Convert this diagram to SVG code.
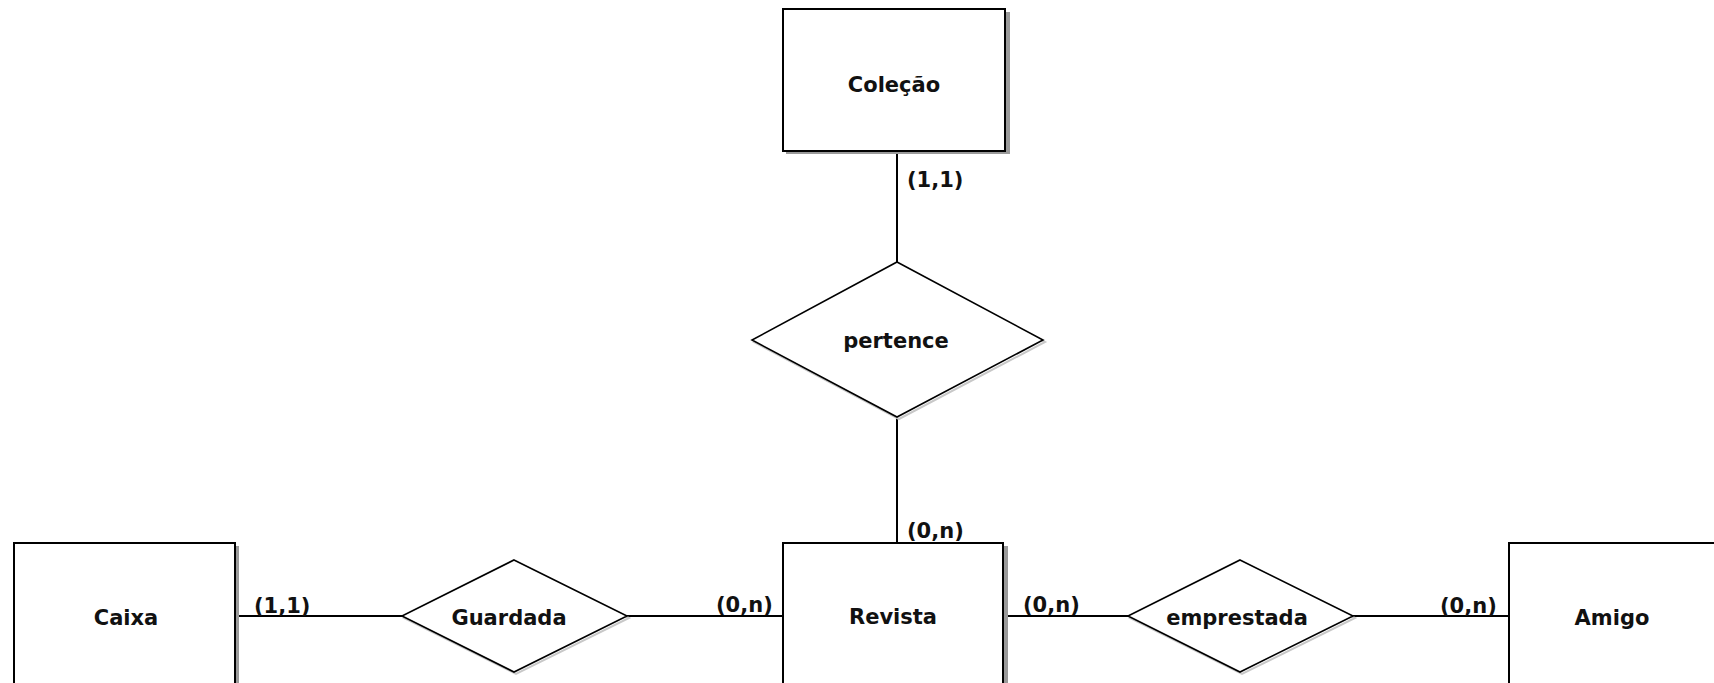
<svg xmlns="http://www.w3.org/2000/svg" width="1714" height="683" viewBox="0 0 1714 683">
<style>
.ent{fill:#fff;stroke:#000;stroke-width:2}
.shd{fill:#9a9a9a}
.rel{fill:#fff;stroke:#000;stroke-width:1.6}
.rshd{fill:none;stroke:#c8c8c8;stroke-width:2}
.lbl{font-family:"DejaVu Sans",Verdana,sans-serif;font-weight:bold;font-size:21px;fill:#111;text-anchor:middle}
.card{font-family:"DejaVu Sans",Verdana,sans-serif;font-weight:bold;font-size:21px;fill:#111}
.ln{stroke:#000;stroke-width:2;fill:none}
</style>
<rect width="1714" height="683" fill="#fff"/>
<g id="connectors">
<line class="ln" x1="897" y1="152" x2="897" y2="262"/>
<line class="ln" x1="897" y1="417" x2="897" y2="543"/>
<line class="ln" x1="238" y1="616" x2="402" y2="616"/>
<line class="ln" x1="627" y1="616" x2="783" y2="616"/>
<line class="ln" x1="1006" y1="616" x2="1128" y2="616"/>
<line class="ln" x1="1353" y1="616" x2="1509" y2="616"/>
<text class="card" x="907" y="187">(1,1)</text>
<text class="card" x="907" y="538">(0,n)</text>
<text class="card" x="254" y="613">(1,1)</text>
<text class="card" x="716" y="612">(0,n)</text>
<text class="card" x="1023" y="612">(0,n)</text>
<text class="card" x="1440" y="613">(0,n)</text>
</g>
<g id="colecao">
<rect class="shd" x="786" y="12" width="224" height="142"/>
<rect class="ent" x="783" y="9" width="222" height="142"/>
<text class="lbl" x="894" y="92">Coleção</text>
</g>
<g id="pertence">
<polygon class="rshd" points="899,264 1045,342 899,419 754,342"/>
<polygon class="rel" points="897,262 1043,340 897,417 752,340"/>
<text class="lbl" x="896" y="348">pertence</text>
</g>
<g id="caixa">
<rect class="shd" x="16" y="546" width="223" height="142"/>
<rect class="ent" x="14" y="543" width="221" height="142"/>
<text class="lbl" x="126" y="625">Caixa</text>
</g>
<g id="guardada">
<polygon class="rshd" points="516,562 629,618 516,674 404,618"/>
<polygon class="rel" points="514,560 627,616 514,672 402,616"/>
<text class="lbl" x="509" y="625">Guardada</text>
</g>
<g id="revista">
<rect class="shd" x="786" y="546" width="222" height="142"/>
<rect class="ent" x="783" y="543" width="220" height="142"/>
<text class="lbl" x="893" y="624">Revista</text>
</g>
<g id="emprestada">
<polygon class="rshd" points="1242,562 1355,618 1242,674 1130,618"/>
<polygon class="rel" points="1240,560 1353,616 1240,672 1128,616"/>
<text class="lbl" x="1237" y="625">emprestada</text>
</g>
<g id="amigo">
<rect class="shd" x="1512" y="546" width="222" height="142"/>
<rect class="ent" x="1509" y="543" width="220" height="142"/>
<text class="lbl" x="1612" y="625">Amigo</text>
</g>
</svg>
